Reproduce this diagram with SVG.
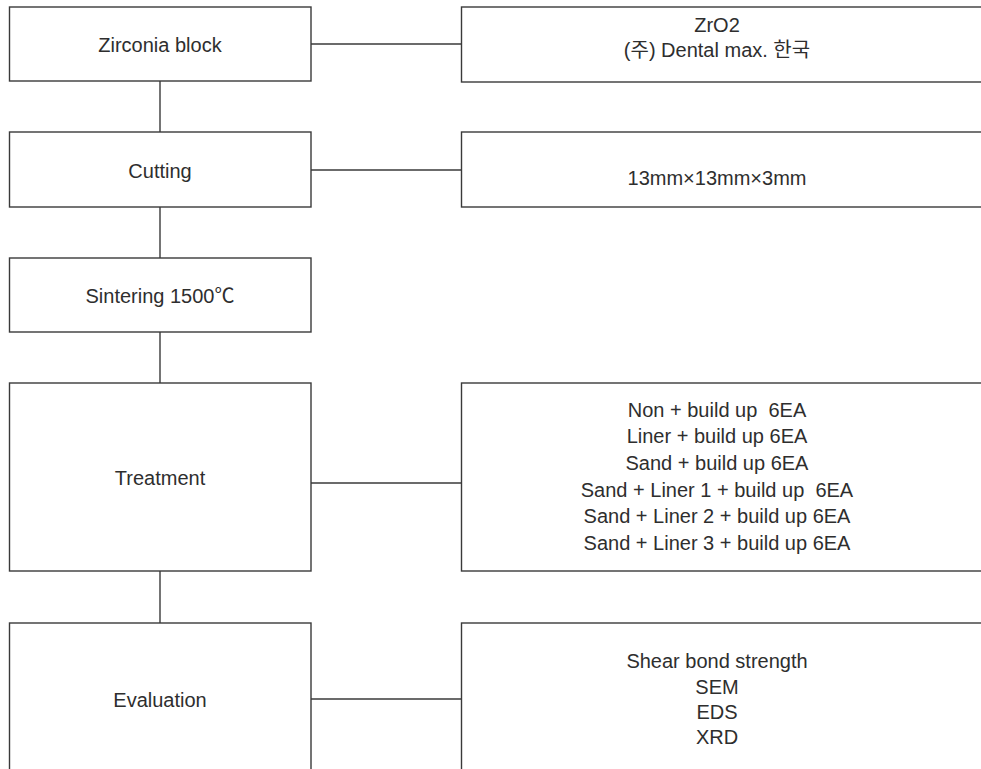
<svg xmlns="http://www.w3.org/2000/svg" width="981" height="769" viewBox="0 0 981 769">
<style>
.box{fill:#fff;stroke:#3a3a3a;stroke-width:1.4}
.ln{stroke:#3a3a3a;stroke-width:1.4;fill:none}
text{font-family:"Liberation Sans","Noto Sans CJK KR",Arial,sans-serif;font-size:20px;fill:#2e2e2e;text-anchor:middle}
</style>
<rect width="981" height="769" fill="#fff"/>
<g id="connectors">
<line class="ln" x1="160" y1="81" x2="160" y2="132"/>
<line class="ln" x1="160" y1="207" x2="160" y2="258"/>
<line class="ln" x1="160" y1="332" x2="160" y2="383"/>
<line class="ln" x1="160" y1="571" x2="160" y2="623"/>
<line class="ln" x1="311" y1="44" x2="461" y2="44"/>
<line class="ln" x1="311" y1="170" x2="461" y2="170"/>
<line class="ln" x1="311" y1="483" x2="461" y2="483"/>
<line class="ln" x1="311" y1="699" x2="461" y2="699"/>
</g>
<g id="zirconia">
<rect class="box" x="9.5" y="7" width="301.5" height="74"/>
<text x="160" y="52">Zirconia block</text>
</g>
<g id="cutting">
<rect class="box" x="9.5" y="132" width="301.5" height="75"/>
<text x="160" y="177.5">Cutting</text>
</g>
<g id="sintering">
<rect class="box" x="9.5" y="258" width="301.5" height="74"/>
<text x="160" y="303">Sintering 1500℃</text>
</g>
<g id="treatment">
<rect class="box" x="9.5" y="383" width="301.5" height="188"/>
<text x="160" y="485">Treatment</text>
</g>
<g id="evaluation">
<rect class="box" x="9.5" y="623" width="301.5" height="160"/>
<text x="160" y="706.5">Evaluation</text>
</g>
<g id="material">
<rect class="box" x="461.5" y="7" width="540" height="75"/>
<text x="717" y="31.5">ZrO2</text>
<text x="717" y="56.5">(주) Dental max. 한국</text>
</g>
<g id="size">
<rect class="box" x="461.5" y="132" width="540" height="75"/>
<text x="717" y="185">13mm×13mm×3mm</text>
</g>
<g id="groups">
<rect class="box" x="461.5" y="383" width="540" height="188"/>
<text x="717" y="416.7" xml:space="preserve">Non + build up  6EA</text>
<text x="717" y="443.3">Liner + build up 6EA</text>
<text x="717" y="470">Sand + build up 6EA</text>
<text x="717" y="496.7" xml:space="preserve">Sand + Liner 1 + build up  6EA</text>
<text x="717" y="523.3">Sand + Liner 2 + build up 6EA</text>
<text x="717" y="550">Sand + Liner 3 + build up 6EA</text>
</g>
<g id="tests">
<rect class="box" x="461.5" y="623" width="540" height="160"/>
<text x="717" y="668.3">Shear bond strength</text>
<text x="717" y="693.5">SEM</text>
<text x="717" y="719">EDS</text>
<text x="717" y="744">XRD</text>
</g>
</svg>
